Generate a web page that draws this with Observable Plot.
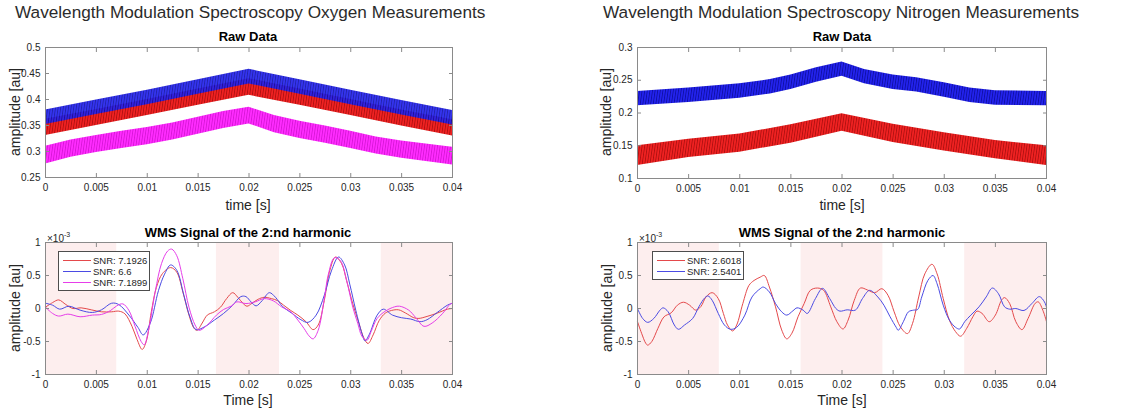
<!DOCTYPE html>
<html><head><meta charset="utf-8">
<script src="https://cdn.jsdelivr.net/npm/d3@7"></script>
<script src="https://cdn.jsdelivr.net/npm/@observablehq/plot@0.6"></script>
<style>
body{margin:0;background:#fff;}
#fig{position:relative;width:1132px;height:414px;overflow:hidden;font-family:"Liberation Sans",Arial,sans-serif;color:#262626;}
#fig svg{position:absolute;}
.abs{position:absolute;white-space:nowrap;line-height:1;z-index:2;}
.supt{font-size:17.2px;color:#2b2b2b;}
.ttl{font-size:13px;font-weight:bold;color:#000;transform:translateX(-50%);}
.xl{font-size:14px;transform:translateX(-50%);}
.yl{font-size:14px;transform:translate(-50%,-50%) rotate(-90deg);}
.exp{font-size:10px;}
.exp sup{font-size:7px;vertical-align:5px;}
.leg{border:1px solid #4d4d4d;background:#fff;font-size:9.5px;z-index:3;}
.leg .ln{position:absolute;height:0;border-top:1px solid;}
.leg .lt{position:absolute;line-height:1;}
</style></head>
<body>
<svg width="0" height="0" style="position:absolute">
<defs>
<pattern id="pBlue" width="2.6" height="10" patternUnits="userSpaceOnUse" patternTransform="skewX(-8)">
<rect width="2.6" height="10" fill="#2323ee"/><rect width="0.9" height="10" fill="#00006a" opacity="0.55"/></pattern>
<pattern id="pRed" width="2.6" height="10" patternUnits="userSpaceOnUse" patternTransform="skewX(-8)">
<rect width="2.6" height="10" fill="#f02222"/><rect width="0.9" height="10" fill="#700000" opacity="0.5"/></pattern>
<pattern id="pMag" width="2.6" height="10" patternUnits="userSpaceOnUse" patternTransform="skewX(-8)">
<rect width="2.6" height="10" fill="#ff2cff"/><rect width="0.9" height="10" fill="#b000b0" opacity="0.5"/></pattern>
</defs></svg>
<div id="fig"></div>
<script>
// ---------- ticks ----------
const tTicks = [0, 0.005, 0.01, 0.015, 0.02, 0.025, 0.03, 0.035, 0.04];
const oxyYTicks = [0.25, 0.3, 0.35, 0.4, 0.45, 0.5];
const nitYTicks = [0.1, 0.15, 0.2, 0.25, 0.3];
const wmsYTicks = [-1, -0.5, 0, 0.5, 1];

// ---------- raw data bands (oxygen) ----------
const oxyBandT  = [0, 0.005, 0.01, 0.015, 0.02, 0.025, 0.03, 0.035, 0.04];
const oxyBlueHi = [0.380, 0.399, 0.418, 0.438, 0.458, 0.438, 0.418, 0.398, 0.379];
const oxyBlueLo = [0.352, 0.371, 0.390, 0.410, 0.430, 0.410, 0.390, 0.370, 0.351];
const oxyRedHi  = [0.362, 0.381, 0.400, 0.420, 0.440, 0.420, 0.400, 0.380, 0.361];
const oxyRedLo  = [0.331, 0.350, 0.369, 0.389, 0.408, 0.389, 0.369, 0.349, 0.330];
const oxyMagT   = [0, 0.0025, 0.005, 0.0075, 0.01, 0.0125, 0.015, 0.0175, 0.02, 0.0225, 0.025, 0.0275, 0.03, 0.0325, 0.035, 0.04];
const oxyMagHi  = [0.310, 0.322, 0.331, 0.339, 0.346, 0.355, 0.366, 0.377, 0.385, 0.369, 0.358, 0.349, 0.339, 0.328, 0.320, 0.308];
const oxyMagLo  = [0.276, 0.289, 0.298, 0.306, 0.313, 0.322, 0.333, 0.344, 0.353, 0.336, 0.325, 0.316, 0.306, 0.295, 0.287, 0.274];

// ---------- raw data bands (nitrogen) ----------
const nitBlueT  = [0, 0.005, 0.01, 0.013, 0.015, 0.0175, 0.02, 0.0222, 0.025, 0.0273, 0.03, 0.0325, 0.035, 0.04];
const nitBlueHi = [0.233, 0.238, 0.2445, 0.251, 0.258, 0.269, 0.278, 0.2665, 0.258, 0.254, 0.246, 0.238, 0.234, 0.233];
const nitBlueLo = [0.211, 0.216, 0.2225, 0.229, 0.236, 0.247, 0.256, 0.2445, 0.236, 0.232, 0.224, 0.216, 0.212, 0.211];
const nitRedT   = [0, 0.005, 0.01, 0.015, 0.02, 0.025, 0.03, 0.035, 0.04];
const nitRedHi  = [0.150, 0.160, 0.168, 0.182, 0.199, 0.183, 0.170, 0.158, 0.150];
const nitRedLo  = [0.120, 0.132, 0.140, 0.154, 0.172, 0.155, 0.142, 0.130, 0.120];

// ---------- WMS 2f signals, [time s, amplitude x1e-3] ----------
const oxyWmsRed = [[0,0.02],[0.0007,0.09],[0.0013,0.13],[0.002,0.06],[0.0027,0.0],[0.0035,0.01],[0.0045,-0.02],[0.0055,-0.05],[0.0065,-0.05],[0.0072,-0.04],[0.0078,-0.08],[0.0085,-0.27],[0.009,-0.47],[0.0095,-0.62],[0.0099,-0.5],[0.0104,-0.05],[0.0109,0.32],[0.0115,0.53],[0.0123,0.62],[0.0129,0.55],[0.0135,0.25],[0.0141,-0.1],[0.0146,-0.3],[0.0149,-0.33],[0.0154,-0.22],[0.0159,-0.1],[0.0166,-0.05],[0.0172,0.02],[0.0178,0.15],[0.0184,0.24],[0.0189,0.17],[0.0194,0.08],[0.0198,0.035],[0.0203,0.08],[0.0209,0.14],[0.0215,0.17],[0.0222,0.15],[0.0228,0.12],[0.0234,0.05],[0.0241,-0.03],[0.0248,-0.1],[0.0256,-0.2],[0.0263,-0.32],[0.0268,-0.25],[0.0274,0.12],[0.0279,0.55],[0.0285,0.78],[0.0291,0.68],[0.0296,0.42],[0.0302,0.07],[0.0308,-0.22],[0.0313,-0.45],[0.0317,-0.53],[0.0322,-0.4],[0.0328,-0.18],[0.0334,-0.07],[0.034,-0.03],[0.0347,-0.02],[0.0354,-0.07],[0.0362,-0.14],[0.0367,-0.15],[0.0375,-0.12],[0.0385,-0.07],[0.0395,-0.01],[0.04,0.0]];
const oxyWmsBlue = [[0,0.08],[0.0007,0.05],[0.0014,-0.01],[0.0023,0.035],[0.0034,-0.025],[0.0046,-0.06],[0.0055,-0.02],[0.0065,0.08],[0.0072,0.06],[0.0082,-0.1],[0.0091,-0.29],[0.0096,-0.4],[0.0103,-0.22],[0.0111,0.27],[0.0117,0.52],[0.0123,0.66],[0.0129,0.58],[0.0136,0.2],[0.0142,-0.13],[0.0148,-0.32],[0.0156,-0.28],[0.0166,-0.175],[0.0175,-0.075],[0.0184,0.05],[0.0192,0.18],[0.0197,0.18],[0.0202,0.1],[0.0207,0.04],[0.0213,0.12],[0.022,0.24],[0.0226,0.17],[0.0233,0.03],[0.0242,-0.07],[0.0251,-0.17],[0.0258,-0.21],[0.0266,-0.1],[0.0274,0.2],[0.0281,0.57],[0.0288,0.78],[0.0294,0.66],[0.0299,0.37],[0.0305,-0.03],[0.0311,-0.38],[0.0314,-0.49],[0.0318,-0.4],[0.0326,-0.1],[0.0332,-0.01],[0.0341,-0.1],[0.035,-0.14],[0.0359,-0.16],[0.0368,-0.2],[0.0375,-0.17],[0.0385,-0.06],[0.0395,0.05],[0.04,0.08]];
const oxyWmsMag = [[0,0.02],[0.0007,-0.075],[0.0013,-0.115],[0.0022,-0.085],[0.0034,-0.125],[0.0046,-0.1],[0.0055,-0.09],[0.0064,-0.03],[0.007,0.04],[0.0076,0.07],[0.0082,-0.03],[0.0088,-0.27],[0.0094,-0.5],[0.0097,-0.55],[0.0101,-0.35],[0.0108,0.27],[0.0114,0.68],[0.012,0.87],[0.0124,0.9],[0.0129,0.8],[0.0135,0.45],[0.0141,0.02],[0.0147,-0.25],[0.0151,-0.33],[0.0159,-0.25],[0.0168,-0.1],[0.0175,-0.015],[0.0183,0.04],[0.0188,0.1],[0.0197,0.075],[0.0206,0.1],[0.0215,0.15],[0.0224,0.115],[0.0232,0.025],[0.0241,-0.05],[0.0248,-0.175],[0.0254,-0.3],[0.0259,-0.415],[0.0263,-0.46],[0.0268,-0.33],[0.0274,0.15],[0.0278,0.52],[0.0284,0.77],[0.029,0.72],[0.0296,0.42],[0.0302,0.02],[0.0307,-0.23],[0.0311,-0.42],[0.0316,-0.48],[0.032,-0.35],[0.0326,-0.15],[0.0334,-0.04],[0.0343,0.025],[0.0348,0.035],[0.0357,-0.025],[0.0364,-0.14],[0.0372,-0.27],[0.038,-0.22],[0.039,-0.08],[0.0398,0.07],[0.04,0.08]];
const nitWmsRed = [[0,-0.2],[0.0004,-0.375],[0.0008,-0.525],[0.001,-0.555],[0.0014,-0.5],[0.002,-0.3],[0.0026,-0.125],[0.0033,-0.065],[0.0039,0.05],[0.0045,0.095],[0.0051,0.05],[0.0057,-0.025],[0.0062,0.03],[0.0067,0.175],[0.0073,0.24],[0.0079,0.15],[0.0084,-0.075],[0.0088,-0.25],[0.0093,-0.34],[0.0097,-0.25],[0.0103,0.075],[0.0109,0.35],[0.0114,0.425],[0.012,0.475],[0.0124,0.5],[0.0129,0.325],[0.0135,0.025],[0.0141,-0.325],[0.0146,-0.46],[0.0151,-0.375],[0.0157,-0.125],[0.0163,0.075],[0.0169,0.275],[0.0176,0.31],[0.0182,0.275],[0.0189,0.025],[0.0195,-0.2],[0.0201,-0.31],[0.0206,-0.175],[0.0212,0.125],[0.0218,0.31],[0.0225,0.28],[0.0232,0.24],[0.0239,0.3],[0.0245,0.2],[0.0251,-0.05],[0.0257,-0.275],[0.0264,-0.38],[0.0269,-0.225],[0.0275,0.175],[0.0281,0.525],[0.0288,0.67],[0.0293,0.525],[0.0299,0.15],[0.0305,-0.175],[0.0311,-0.35],[0.0316,-0.42],[0.0322,-0.3],[0.0328,-0.125],[0.0332,-0.04],[0.0337,-0.075],[0.0344,-0.2],[0.035,-0.1],[0.0356,0.125],[0.0359,0.165],[0.0364,0.075],[0.037,-0.2],[0.0376,-0.32],[0.0382,-0.15],[0.0389,0.08],[0.0392,0.1],[0.0397,-0.05],[0.04,-0.2]];
const nitWmsBlue = [[0,0.0],[0.0005,-0.15],[0.001,-0.21],[0.0016,-0.15],[0.0022,-0.025],[0.0025,0.01],[0.003,-0.05],[0.0036,-0.25],[0.004,-0.315],[0.0046,-0.25],[0.0054,-0.15],[0.006,0.025],[0.0066,0.165],[0.0069,0.19],[0.0073,0.125],[0.0079,-0.075],[0.0085,-0.25],[0.0091,-0.315],[0.0097,-0.285],[0.0105,-0.1],[0.0112,0.175],[0.012,0.3],[0.0123,0.325],[0.0129,0.25],[0.0135,0.075],[0.0141,-0.05],[0.0146,-0.1],[0.0152,-0.035],[0.0156,0.01],[0.0162,-0.025],[0.0166,-0.075],[0.0174,0.15],[0.0181,0.305],[0.0188,0.15],[0.0194,0.0],[0.0198,-0.04],[0.0205,-0.02],[0.0213,-0.025],[0.022,0.15],[0.0227,0.275],[0.0235,0.175],[0.0241,0.05],[0.0247,-0.125],[0.0253,-0.285],[0.0255,-0.33],[0.026,-0.2],[0.0265,-0.05],[0.027,-0.025],[0.0274,-0.015],[0.0278,0.175],[0.0284,0.425],[0.0289,0.5],[0.0293,0.375],[0.0299,0.05],[0.0305,-0.175],[0.0311,-0.285],[0.0315,-0.31],[0.032,-0.2],[0.0326,-0.1],[0.0334,0.025],[0.0341,0.175],[0.0347,0.31],[0.0353,0.225],[0.0359,0.025],[0.0364,-0.01],[0.037,0.0],[0.0378,-0.03],[0.0386,0.08],[0.0393,0.18],[0.0398,0.1],[0.04,0.02]];

// ---------- shaded windows ----------
const oxyShade = [[0, 0.007], [0.0168, 0.023], [0.033, 0.04]];
const nitShade = [[0, 0.008], [0.016, 0.024], [0.032, 0.04]];

// ---------- legends ----------
const oxyLegend = ["SNR: 7.1926", "SNR: 6.6", "SNR: 7.1899"];
const nitLegend = ["SNR: 2.6018", "SNR: 2.5401"];

const C = {red: "#e4494b", blue: "#4b4be3", mag: "#e63ee9"};
const fig = document.getElementById("fig");
const fmt = d => String(d);
const band = (T, lo, hi) => T.map((t, i) => ({t, lo: lo[i], hi: hi[i]}));
const AX = "#8a8a8a";

function axes(yTicks) {
  return [
    Plot.frame({stroke: AX, strokeWidth: 1}),
    Plot.axisX({ticks: tTicks, tickSize: -4, tickPadding: 10, tickFormat: fmt, label: null, stroke: AX, fill: "#262626"}),
    Plot.axisX({anchor: "top", ticks: tTicks, tickSize: -4, tickFormat: () => "", label: null, stroke: AX}),
    Plot.axisY({ticks: yTicks, tickSize: -4, tickPadding: 9, tickFormat: fmt, label: null, stroke: AX, fill: "#262626"}),
    Plot.axisY({anchor: "right", ticks: yTicks, tickSize: -4, tickFormat: () => "", label: null, stroke: AX})
  ];
}

function panel({left, top, height, mt, mb, ml, mr, yDomain, yTicks, marks}) {
  const p = Plot.plot({
    width: 566, height,
    marginTop: mt, marginBottom: mb, marginLeft: ml, marginRight: mr,
    x: {domain: [0, 0.04]},
    y: {domain: yDomain},
    style: {fontFamily: "Liberation Sans, Arial, sans-serif", fontSize: "10px", color: "#262626", background: "transparent", overflow: "visible"},
    marks: [...marks, ...axes(yTicks)]
  });
  p.style.left = left + "px";
  p.style.top = top + "px";
  fig.appendChild(p);
}

const shadeMarks = s => Plot.rect(s, {x1: d => d[0], x2: d => d[1], fill: "#fdeeee"});
const wmsLine = (data, color) => Plot.line(data, {x: d => d[0], y: d => d[1], stroke: color, strokeWidth: 1, curve: "catmull-rom"});

// Top-left raw oxygen
panel({left: 0, top: 0, height: 214, mt: 47, mb: 37, ml: 45, mr: 114, yDomain: [0.25, 0.5], yTicks: oxyYTicks, marks: [
  Plot.areaY(band(oxyBandT, oxyRedLo, oxyRedHi), {x: "t", y1: "lo", y2: "hi", fill: "url(#pRed)"}),
  Plot.areaY(band(oxyBandT, oxyBlueLo, oxyBlueHi), {x: "t", y1: "lo", y2: "hi", fill: "url(#pBlue)", fillOpacity: 0.92}),
  Plot.areaY(band(oxyMagT, oxyMagLo, oxyMagHi), {x: "t", y1: "lo", y2: "hi", fill: "url(#pMag)"})
]});
// Top-right raw nitrogen
panel({left: 566, top: 0, height: 214, mt: 47, mb: 36, ml: 71, mr: 86, yDomain: [0.1, 0.3], yTicks: nitYTicks, marks: [
  Plot.areaY(band(nitRedT, nitRedLo, nitRedHi), {x: "t", y1: "lo", y2: "hi", fill: "url(#pRed)"}),
  Plot.areaY(band(nitBlueT, nitBlueLo, nitBlueHi), {x: "t", y1: "lo", y2: "hi", fill: "url(#pBlue)"})
]});
// Bottom-left WMS oxygen
panel({left: 0, top: 214, height: 200, mt: 28, mb: 40, ml: 45, mr: 114, yDomain: [-1, 1], yTicks: wmsYTicks, marks: [
  shadeMarks(oxyShade),
  wmsLine(oxyWmsRed, C.red), wmsLine(oxyWmsBlue, C.blue), wmsLine(oxyWmsMag, C.mag)
]});
// Bottom-right WMS nitrogen
panel({left: 566, top: 214, height: 200, mt: 28, mb: 40, ml: 71, mr: 86, yDomain: [-1, 1], yTicks: wmsYTicks, marks: [
  shadeMarks(nitShade),
  wmsLine(nitWmsRed, C.red), wmsLine(nitWmsBlue, C.blue)
]});

// ---------- texts ----------
function txt(cls, html, x, y) {
  const d = document.createElement("div");
  d.className = "abs " + cls;
  d.innerHTML = html;
  d.style.left = x + "px";
  d.style.top = y + "px";
  fig.appendChild(d);
  return d;
}
txt("supt", "Wavelength Modulation Spectroscopy Oxygen Measurements", 15, 4);
txt("supt", "Wavelength Modulation Spectroscopy Nitrogen Measurements", 603, 4);
txt("ttl", "Raw Data", 248, 30);
txt("ttl", "Raw Data", 842, 30);
txt("ttl", "WMS Signal of the 2:nd harmonic", 248, 226);
txt("ttl", "WMS Signal of the 2:nd harmonic", 842, 226);
txt("xl", "time [s]", 248, 198);
txt("xl", "time [s]", 842, 198);
txt("xl", "Time [s]", 248, 393);
txt("xl", "Time [s]", 842, 393);
txt("yl", "amplitude [au]", 15, 112);
txt("yl", "amplitude [au]", 606, 112);
txt("yl", "amplitude [au]", 15, 308);
txt("yl", "amplitude [au]", 607, 308);
txt("exp", "×10<sup>-3</sup>", 47, 231);
txt("exp", "×10<sup>-3</sup>", 639, 231);

function legend(x, y, w, labels, colors) {
  const box = txt("leg", "", x, y);
  box.style.width = w + "px";
  box.style.height = (labels.length * 11 + 5) + "px";
  labels.forEach((lab, i) => {
    const ln = document.createElement("div");
    ln.className = "ln";
    ln.style.left = "4px"; ln.style.width = "28px";
    ln.style.top = (8 + i * 11) + "px";
    ln.style.borderTopColor = colors[i];
    box.appendChild(ln);
    const t = document.createElement("div");
    t.className = "lt";
    t.textContent = lab;
    t.style.left = "34px";
    t.style.top = (3.5 + i * 11) + "px";
    box.appendChild(t);
  });
}
legend(58, 251, 90, oxyLegend, [C.red, C.blue, C.mag]);
legend(652, 251, 90, nitLegend, [C.red, C.blue]);
</script>
</body></html>
